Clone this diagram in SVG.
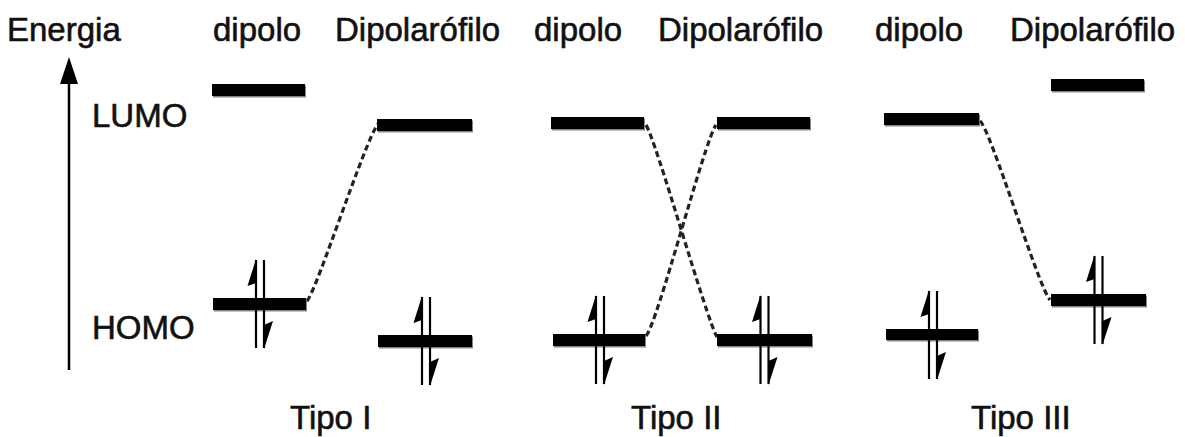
<svg xmlns="http://www.w3.org/2000/svg" xmlns:xlink="http://www.w3.org/1999/xlink" width="1185" height="437" viewBox="0 0 1185 437">
<style>
text { font-family: "Liberation Sans", Arial, sans-serif; font-size: 33px; fill: #111; stroke: #111; stroke-width: 0.6; }
.bar { fill: #000; }
.e line { stroke: #000; stroke-width: 2.2; }
.e polygon { fill: #000; }
.dash { fill: none; stroke: #222; stroke-width: 3.2; stroke-dasharray: 6 3.5; }
.axis { stroke: #000; stroke-width: 2.5; }
</style>
<defs>
<filter id="sh" x="-5%" y="-30%" width="110%" height="180%">
<feDropShadow dx="1" dy="1.5" stdDeviation="0.6" flood-color="#666" flood-opacity="0.8"/>
</filter>
<g id="pair" class="e">
<line x1="-3.5" y1="-38" x2="-3.5" y2="50"/>
<polygon points="-3.5,-39 -12,-12 -3.5,-15"/>
<line x1="4.5" y1="-38" x2="4.5" y2="50"/>
<polygon points="4.5,51 13.5,23 4.5,27"/>
</g>
</defs>
<rect width="1185" height="437" fill="#fff"/>

<g id="axis">
<line class="axis" x1="69" y1="370" x2="69" y2="80"/>
<polygon points="69,57 60,84 78,84" fill="#000"/>
<text x="7" y="41">Energia</text>
<text x="92" y="127">LUMO</text>
<text x="92" y="339">HOMO</text>
</g>

<g id="headers">
<text x="213" y="41">dipolo</text>
<text x="335" y="41">Dipolarófilo</text>
<text x="534" y="41">dipolo</text>
<text x="658" y="41">Dipolarófilo</text>
<text x="875" y="41">dipolo</text>
<text x="1010" y="41">Dipolarófilo</text>
</g>

<g id="connectors">
<path class="dash" d="M307,301 C316,292 366,138 378,124"/>
<path class="dash" d="M646,125 C656,140 706,318 717,337"/>
<path class="dash" d="M646,336 C658,322 704,142 716,125"/>
<path class="dash" d="M980,121 C990,128 1038,286 1050,300"/>
</g>

<g id="tipo1-dipolo-lumo"><rect class="bar" filter="url(#sh)" x="212" y="84" width="93" height="12"/></g>
<g id="tipo1-dipolo-homo"><rect class="bar" filter="url(#sh)" x="213" y="298" width="93" height="12"/><use xlink:href="#pair" transform="translate(259.5,298)"/></g>
<g id="tipo1-dipolarofilo-lumo"><rect class="bar" filter="url(#sh)" x="377" y="119" width="95" height="12"/></g>
<g id="tipo1-dipolarofilo-homo"><rect class="bar" filter="url(#sh)" x="378" y="335" width="94" height="12"/><use xlink:href="#pair" transform="translate(425.5,335)"/></g>

<g id="tipo2-dipolo-lumo"><rect class="bar" filter="url(#sh)" x="551" y="117" width="93" height="12"/></g>
<g id="tipo2-dipolo-homo"><rect class="bar" filter="url(#sh)" x="553" y="334" width="92" height="12"/><use xlink:href="#pair" transform="translate(599.5,334)"/></g>
<g id="tipo2-dipolarofilo-lumo"><rect class="bar" filter="url(#sh)" x="717" y="117" width="93" height="12"/></g>
<g id="tipo2-dipolarofilo-homo"><rect class="bar" filter="url(#sh)" x="717" y="334" width="95" height="12"/><use xlink:href="#pair" transform="translate(764,334)"/></g>

<g id="tipo3-dipolo-lumo"><rect class="bar" filter="url(#sh)" x="884" y="113" width="95" height="12"/></g>
<g id="tipo3-dipolo-homo"><rect class="bar" filter="url(#sh)" x="886" y="329" width="92" height="11"/><use xlink:href="#pair" transform="translate(932.5,329)"/></g>
<g id="tipo3-dipolarofilo-lumo"><rect class="bar" filter="url(#sh)" x="1051" y="79" width="93" height="12"/></g>
<g id="tipo3-dipolarofilo-homo"><rect class="bar" filter="url(#sh)" x="1051" y="294" width="95" height="12"/><use xlink:href="#pair" transform="translate(1098,294)"/></g>

<g id="labels">
<text x="290" y="429">Tipo I</text>
<text x="631" y="429">Tipo II</text>
<text x="971" y="429">Tipo III</text>
</g>
</svg>
